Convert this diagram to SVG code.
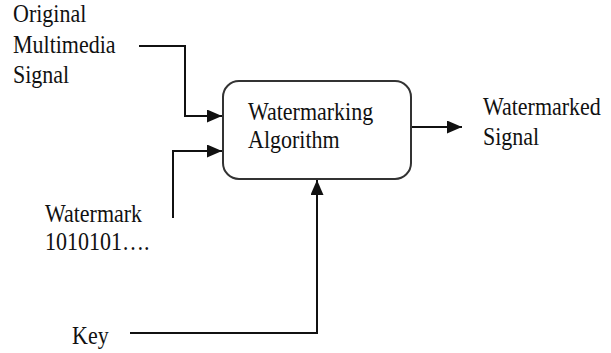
<svg xmlns="http://www.w3.org/2000/svg" width="611" height="353" viewBox="0 0 611 353">
<style>
.c{fill:none;stroke:#111;stroke-width:2}
</style>
<defs>
<marker id="ah" viewBox="0 0 10 10" refX="10" refY="5" markerWidth="15" markerHeight="13" markerUnits="userSpaceOnUse" orient="auto" preserveAspectRatio="none">
<path d="M0,0 L10,5 L0,10 Z" fill="#111"/>
</marker>
</defs>
<rect width="611" height="353" fill="#fff"/>
<g id="connectors">
<polyline class="c" points="139,46 185,46 185,116 222,116" marker-end="url(#ah)"/>
<polyline class="c" points="173,218 173,151 222,151" marker-end="url(#ah)"/>
<polyline class="c" points="130,333 317,333 317,180" marker-end="url(#ah)"/>
<line class="c" x1="411" y1="127" x2="462" y2="127" marker-end="url(#ah)"/>
</g>
<g font-family="'Liberation Serif', serif" font-size="22" fill="#111">
<g id="algorithm">
<rect x="223" y="81" width="188" height="98" rx="16" fill="#fff" stroke="#333" stroke-width="2"/>
<text transform="translate(248,120) scale(1,1.1)">Watermarking</text>
<text transform="translate(248,148) scale(1,1.1)">Algorithm</text>
</g>
<g id="original">
<text transform="translate(13,22) scale(1,1.1)">Original</text>
<text transform="translate(13,53) scale(1,1.1)">Multimedia</text>
<text transform="translate(13,83) scale(1,1.1)">Signal</text>
</g>
<g id="watermark">
<text transform="translate(45,222) scale(1,1.1)">Watermark</text>
<text transform="translate(45,250) scale(1,1.1)">1010101….</text>
</g>
<g id="key">
<text transform="translate(72,344) scale(1,1.1)">Key</text>
</g>
<g id="output">
<text transform="translate(483,115) scale(1,1.1)">Watermarked</text>
<text transform="translate(483,145) scale(1,1.1)">Signal</text>
</g>
</g>
</svg>
